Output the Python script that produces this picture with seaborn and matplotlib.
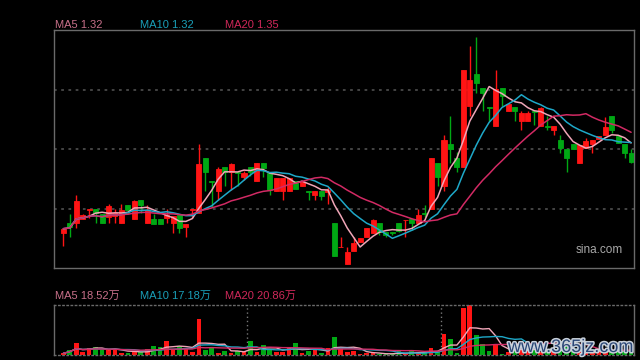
import numpy as np
import pandas as pd
import matplotlib
matplotlib.use("Agg")
import matplotlib.pyplot as plt
import matplotlib.patheffects as pe
import seaborn as sns

# daily K-line data (price)
opens = [1.069, 1.095, 1.097, 1.107, 1.133, 1.134, 1.121, 1.114, 1.116, 1.097,
         1.146, 1.108, 1.160, 1.097, 1.107, 1.107, 1.110, 1.095, 1.118, 1.084,
         1.133, 1.123, 1.277, 1.213, 1.186, 1.252, 1.238, 1.239, 1.226, 1.252,
         1.214, 1.263, 1.237, 1.186, 1.186, 1.186, 1.214, 1.200, 1.186, 1.174,
         1.186, 1.183, 1.095, 1.029, 0.980, 1.018, 1.044, 1.058, 1.067, 1.097,
         1.072, 1.071, 1.095, 1.103, 1.107, 1.097, 1.123, 1.135, 1.265, 1.200,
         1.317, 1.279, 1.254, 1.422, 1.513, 1.473, 1.420, 1.368, 1.473, 1.408,
         1.420, 1.382, 1.382, 1.408, 1.368, 1.366, 1.356, 1.328, 1.303, 1.316,
         1.265, 1.305, 1.317, 1.330, 1.342, 1.396, 1.340, 1.316, 1.291]
highs = [1.080, 1.121, 1.174, 1.121, 1.134, 1.134, 1.121, 1.148, 1.134, 1.149,
         1.146, 1.160, 1.160, 1.146, 1.121, 1.107, 1.135, 1.116, 1.118, 1.093,
         1.134, 1.317, 1.277, 1.213, 1.254, 1.252, 1.264, 1.239, 1.242, 1.252,
         1.263, 1.263, 1.237, 1.221, 1.221, 1.221, 1.214, 1.212, 1.186, 1.186,
         1.186, 1.198, 1.095, 1.056, 1.030, 1.056, 1.055, 1.081, 1.108, 1.097,
         1.072, 1.071, 1.095, 1.104, 1.107, 1.134, 1.146, 1.279, 1.265, 1.342,
         1.396, 1.296, 1.524, 1.592, 1.616, 1.473, 1.420, 1.524, 1.473, 1.429,
         1.420, 1.410, 1.408, 1.408, 1.420, 1.394, 1.368, 1.342, 1.303, 1.316,
         1.314, 1.333, 1.328, 1.340, 1.392, 1.396, 1.340, 1.316, 1.302]
lows = [1.032, 1.058, 1.083, 1.107, 1.109, 1.097, 1.097, 1.097, 1.097, 1.097,
        1.121, 1.108, 1.124, 1.097, 1.094, 1.094, 1.096, 1.069, 1.069, 1.058,
        1.110, 1.123, 1.186, 1.142, 1.160, 1.200, 1.188, 1.200, 1.216, 1.228,
        1.214, 1.226, 1.174, 1.186, 1.160, 1.186, 1.190, 1.200, 1.160, 1.160,
        1.160, 1.149, 1.004, 1.029, 0.980, 1.018, 1.044, 1.058, 1.067, 1.062,
        1.058, 1.062, 1.071, 1.058, 1.076, 1.097, 1.112, 1.135, 1.200, 1.186,
        1.263, 1.240, 1.254, 1.394, 1.461, 1.408, 1.380, 1.368, 1.422, 1.408,
        1.382, 1.356, 1.382, 1.370, 1.368, 1.356, 1.342, 1.291, 1.240, 1.303,
        1.265, 1.305, 1.291, 1.330, 1.342, 1.347, 1.319, 1.279, 1.263]
closes = [1.080, 1.084, 1.158, 1.118, 1.134, 1.123, 1.097, 1.144, 1.124, 1.132,
          1.132, 1.158, 1.146, 1.132, 1.094, 1.094, 1.118, 1.116, 1.081, 1.093,
          1.134, 1.261, 1.239, 1.211, 1.247, 1.238, 1.261, 1.237, 1.237, 1.240,
          1.263, 1.249, 1.188, 1.221, 1.221, 1.221, 1.190, 1.212, 1.184, 1.186,
          1.172, 1.188, 1.004, 1.030, 1.016, 1.039, 1.055, 1.081, 1.104, 1.072,
          1.062, 1.068, 1.074, 1.104, 1.095, 1.118, 1.121, 1.277, 1.226, 1.328,
          1.303, 1.254, 1.524, 1.496, 1.489, 1.461, 1.419, 1.470, 1.450, 1.429,
          1.408, 1.403, 1.403, 1.407, 1.417, 1.365, 1.368, 1.305, 1.279, 1.303,
          1.314, 1.326, 1.328, 1.340, 1.364, 1.356, 1.319, 1.293, 1.268]
# volume in 万
volumes = [7.3, 21.5, 52.9, 12.9, 28.8, 34.4, 21.5, 21.5, 24.5, 9.9,
           7.3, 14.2, 11.6, 25.8, 38.7, 33.1, 60.2, 21.5, 38.7, 28.8,
           14.2, 153.5, 21.5, 31.4, 9.9, 17.2, 9.9, 18.5, 12.9, 60.2,
           14.2, 43.0, 24.5, 11.6, 12.9, 31.4, 52.9, 7.3, 18.5, 21.5,
           9.9, 28.8, 78.7, 28.8, 14.2, 18.5, 4.3, 7.3, 7.3, 4.3,
           4.3, 3.0, 18.5, 4.3, 17.2, 7.3, 9.9, 31.4, 14.2, 90.3,
           68.8, 9.9, 203.4, 215.0, 86.0, 47.3, 18.5, 47.3, 4.3, 15.0,
           30.0, 28.0, 26.0, 24.0, 12.0, 25.0, 22.0, 30.0, 33.4, 22.0,
           16.5, 14.2, 12.1, 14.4, 14.2, 18.5, 18.5, 22.9, 18.5]
month_breaks = [28.5, 58.5]

price_labels = ["MA5 1.32", "MA10 1.32", "MA20 1.35"]
vol_labels = ["MA5 18.52万", "MA10 17.18万", "MA20 20.86万"]

df = pd.DataFrame({"open": opens, "high": highs, "low": lows,
                   "close": closes, "vol": volumes})
df["idx"] = np.arange(len(df))
for n in (5, 10, 20):
    df[f"ma{n}"] = df["close"].rolling(n, min_periods=1).mean()
    df[f"vma{n}"] = df["vol"].rolling(n, min_periods=1).mean()

UP = "#ff1414"
DOWN = "#00a814"
MA_LINE = {"ma5": "#f0a6b8", "ma10": "#1ea8c8", "ma20": "#d22a64"}
MA_TEXT = ["#c8708a", "#1a9fb8", "#d0285a"]

sns.set_style("dark")
plt.rcParams["font.family"] = ["Liberation Sans", "Noto Sans CJK SC"]

fig = plt.figure(figsize=(6.4, 3.6), dpi=100, facecolor="black")
ax = fig.add_axes([54 / 640, 1 - 268 / 360, 580 / 640, 238 / 360])
axv = fig.add_axes([54 / 640, 1 - 355 / 360, 580 / 640, 50 / 360])

colors = np.where(df["close"] >= df["open"], UP, DOWN)

for a in (ax, axv):
    a.set_facecolor("black")
    a.set_xlim(-1.45, 88.45)
    a.set_xticks([])
    a.tick_params(length=0, labelleft=False, labelbottom=False)
    for s in a.spines.values():
        s.set_color("#6a6a6a")
        s.set_linewidth(1)

# main price panel
ylo, yhi = 0.970, 1.636
ax.set_ylim(ylo, yhi)
ax.set_yticks(np.linspace(ylo, yhi, 5)[1:-1])
ax.grid(False)
for gy in ax.get_yticks():
    ax.axhline(gy, color="#4a4a4a", lw=1.3, ls=(0, (1.5, 2.5)), zorder=0)

ax.vlines(df["idx"], df["low"], df["high"], colors=colors, lw=1, zorder=2)
ax.bar(df["idx"], (df["close"] - df["open"]).abs(),
       bottom=np.minimum(df["open"], df["close"]), width=0.78,
       color=colors, edgecolor=colors, linewidth=0.6, zorder=3)
for key in ("ma5", "ma10", "ma20"):
    sns.lineplot(x=df["idx"], y=df[key], color=MA_LINE[key], lw=1.1,
                 ax=ax, zorder=4)
ax.set_xlabel("")
ax.set_ylabel("")
ax.text(623 / 640, 1 - 253 / 360, "sina.com", transform=fig.transFigure,
        ha="right", va="baseline", color="#a8a8a8", fontsize=8.5)

# volume panel
axv.set_ylim(0, 216)
axv.grid(False)
axv.spines["top"].set_linestyle((0, (1, 2)))
axv.spines["bottom"].set_linestyle((0, (1, 2)))
for mb in month_breaks:
    axv.axvline(mb, color="#777777", lw=1, ls=(0, (1, 2)), zorder=0)
axv.bar(df["idx"], df["vol"], width=0.72, color=colors, edgecolor=colors,
        linewidth=0, zorder=2)
for key in ("ma5", "ma10", "ma20"):
    sns.lineplot(x=df["idx"], y=df["v" + key], color=MA_LINE[key], lw=1.0,
                 ax=axv, zorder=3)
axv.set_xlabel("")
axv.set_ylabel("")

for i, xpix in enumerate((55, 140, 225)):
    fig.text(xpix / 640, 1 - 28 / 360, price_labels[i], color=MA_TEXT[i],
             fontsize=8, va="baseline")
    fig.text(xpix / 640, 1 - 299 / 360, vol_labels[i], color=MA_TEXT[i],
             fontsize=8, va="baseline")

wm = fig.text(633 / 640, 1 - 352 / 360, "www.365jz.com", color="#2a4676",
              fontsize=13, ha="right", va="baseline")
wm.set_path_effects([pe.withStroke(linewidth=2.2, foreground="#c9d1da")])

fig.savefig("out.png", dpi=100, facecolor="black")
